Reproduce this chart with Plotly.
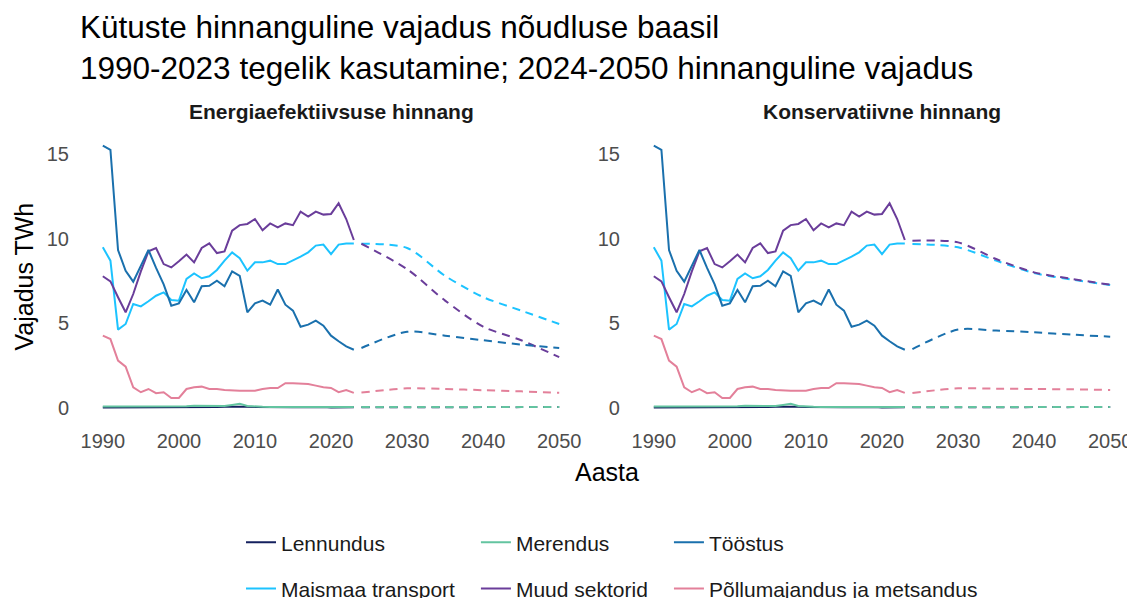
'''Kütuste hinnanguline vajadus nõudluse baasil - kaks stsenaariumi kõrvuti'''

import plotly.graph_objects as go
import plotly.io as pio
from plotly.subplots import make_subplots

import pandas as pd

#---------------------------------------------------------------------------------------

#tegelik kasutamine 1990-2023 (TWh)
actual = pd.DataFrame({
    'Aasta': list(range(1990, 2024)),
    'Lennundus': [0.03, 0.03, 0.02, 0.02, 0.02, 0.02, 0.03, 0.03, 0.03, 0.03,
                  0.04, 0.05, 0.06, 0.06, 0.05, 0.06, 0.07, 0.08, 0.09, 0.07,
                  0.05, 0.04, 0.04, 0.04, 0.04, 0.04, 0.04, 0.05, 0.05, 0.05,
                  0.03, 0.04, 0.04, 0.04],
    'Maismaa transport': [9.49, 8.70, 4.63, 4.96, 6.14, 6.00, 6.30, 6.63, 6.83, 6.38,
                          6.34, 7.62, 7.95, 7.66, 7.78, 8.15, 8.70, 9.19, 8.84, 8.11,
                          8.60, 8.60, 8.70, 8.50, 8.50, 8.70, 8.94, 9.19, 9.59, 9.65,
                          9.09, 9.65, 9.72, 9.72],
    'Merendus': [0.08, 0.08, 0.07, 0.06, 0.06, 0.06, 0.07, 0.07, 0.08, 0.08,
                 0.09, 0.10, 0.13, 0.12, 0.10, 0.10, 0.11, 0.18, 0.25, 0.12,
                 0.08, 0.07, 0.06, 0.06, 0.06, 0.06, 0.06, 0.06, 0.06, 0.06,
                 0.05, 0.06, 0.06, 0.06],
    'Muud sektorid': [7.78, 7.48, 6.54, 5.65, 6.73, 8.07, 9.25, 9.45, 8.50, 8.30,
                      8.66, 9.06, 8.60, 9.45, 9.72, 9.15, 9.25, 10.47, 10.80, 10.87,
                      11.16, 10.50, 10.90, 10.67, 10.90, 10.80, 11.60, 11.30, 11.60, 11.42,
                      11.46, 12.09, 11.16, 9.92],
    'Tööstus': [15.50, 15.25, 9.33, 8.10, 7.46, 8.40, 9.33, 8.27, 7.30, 6.04,
                6.18, 6.97, 6.24, 7.19, 7.22, 7.52, 7.19, 8.07, 7.80, 5.65,
                6.18, 6.34, 6.10, 7.00, 6.10, 5.75, 4.80, 4.92, 5.16, 4.86,
                4.27, 3.94, 3.64, 3.44],
    'Põllumajandus ja metsandus': [4.27, 4.07, 2.80, 2.44, 1.22, 0.93, 1.12, 0.87, 0.93, 0.59,
                                   0.59, 1.12, 1.22, 1.26, 1.12, 1.12, 1.06, 1.02, 1.02, 1.02,
                                   1.02, 1.12, 1.18, 1.18, 1.46, 1.46, 1.42, 1.42, 1.32, 1.22,
                                   1.18, 0.93, 1.06, 0.89],
})

#hinnanguline vajadus 2024-2050 (TWh)
fcast_years = [2024, 2030, 2035, 2040, 2045, 2050]
fcast = {
    'Energiaefektiivsuse hinnang': pd.DataFrame({
        'Aasta': fcast_years,
        'Lennundus': [0.04, 0.04, 0.04, 0.05, 0.05, 0.06],
        'Maismaa transport': [9.70, 9.45, 7.80, 6.55, 5.75, 4.96],
        'Merendus': [0.06, 0.06, 0.06, 0.06, 0.06, 0.06],
        'Muud sektorid': [9.70, 8.20, 6.34, 4.80, 4.00, 3.00],
        'Tööstus': [3.54, 4.50, 4.27, 4.00, 3.74, 3.54],
        'Põllumajandus ja metsandus': [0.91, 1.16, 1.12, 1.05, 0.98, 0.90],
    }),
    'Konservatiivne hinnang': pd.DataFrame({
        'Aasta': fcast_years,
        'Lennundus': [0.04, 0.04, 0.04, 0.05, 0.05, 0.06],
        'Maismaa transport': [9.69, 9.49, 8.70, 7.97, 7.58, 7.26],
        'Merendus': [0.06, 0.06, 0.06, 0.06, 0.06, 0.06],
        'Muud sektorid': [9.88, 9.78, 8.80, 8.01, 7.62, 7.28],
        'Tööstus': [3.48, 4.63, 4.57, 4.47, 4.33, 4.21],
        'Põllumajandus ja metsandus': [0.89, 1.16, 1.14, 1.12, 1.10, 1.06],
    }),
}

#---------------------------------------------------------------------------------------

#setting color palette for charts
pio.templates.default = "plotly_white"
sector_palette = {'Lennundus': '#14205e',
                  'Maismaa transport': '#1cc3ff',
                  'Merendus': '#63c4a0',
                  'Muud sektorid': '#6a3d9a',
                  'Tööstus': '#1a70ad',
                  'Põllumajandus ja metsandus': '#e3809a'}
sector_legend = {'Lennundus': 'legend', 'Maismaa transport': 'legend',
                 'Merendus': 'legend2', 'Muud sektorid': 'legend2',
                 'Tööstus': 'legend3', 'Põllumajandus ja metsandus': 'legend3'}
font_family = "Liberation Sans, Arial, sans-serif"

#---------------------------------------------------------------------------------------

#Demand by sector
def demand_plots():
    scenarios = list(fcast.keys())
    demand = make_subplots(rows=1, cols=2, horizontal_spacing=0.0465,
                           subplot_titles=[f"<b>{s}</b>" for s in scenarios])

    for col, scenario in enumerate(scenarios, start=1):
        demand.add_vrect(x0=2024, x1=2050, fillcolor='#f0f0f0', opacity=1,
                         line_width=0, layer='below', row=1, col=col)
        for sector, color in sector_palette.items():
            demand.add_trace(
                go.Scatter(
                    x=actual.Aasta,
                    y=actual[sector],
                    name=sector,
                    mode='lines',
                    legendgroup=sector,
                    legend=sector_legend[sector],
                    showlegend=(col == 1),
                    line=dict(color=color, width=2),
                ), row=1, col=col)
            demand.add_trace(
                go.Scatter(
                    x=fcast[scenario].Aasta,
                    y=fcast[scenario][sector],
                    name=sector,
                    mode='lines',
                    legendgroup=sector,
                    legend=sector_legend[sector],
                    showlegend=False,
                    line=dict(color=color, width=2, dash='8px,6px', shape='spline', smoothing=0.8),
                ), row=1, col=col)

    demand.update_xaxes(range=[1987, 2053], tickvals=list(range(1990, 2051, 10)),
                        showgrid=False, zeroline=False, ticklabelstandoff=6,
                        tickfont=dict(size=20, color='#4d4d4d'))
    demand.update_yaxes(range=[-0.77, 16.3], tickvals=[0, 5, 10, 15],
                        showgrid=False, zeroline=False, ticklabelstandoff=10,
                        tickfont=dict(size=20, color='#4d4d4d'))
    demand.update_annotations(font=dict(size=21, color='#1a1a1a'), yshift=7)

    demand.add_annotation(text="Aasta", xref='paper', yref='paper', x=0.5, y=-0.1765,
                          xanchor='center', yanchor='middle',
                          showarrow=False, font=dict(size=25, color='black'))
    demand.add_annotation(text="Vajadus TWh", xref='paper', yref='paper', x=-0.0541, y=0.5,
                          xanchor='center', yanchor='middle', textangle=-90,
                          showarrow=False, font=dict(size=25, color='black'))

    legend_style = dict(orientation='v', yanchor='top', y=-0.35, xanchor='left',
                        traceorder='grouped', tracegroupgap=16,
                        font=dict(size=21, color='#1a1a1a'), bgcolor='rgba(0,0,0,0)')
    demand.update_layout(
        width=1127, height=590,
        font=dict(family=font_family),
        margin=dict(l=72, r=2, t=124, b=177, autoexpand=False),
        title={
            'text': "Kütuste hinnanguline vajadus nõudluse baasil<br>"
                    "1990-2023 tegelik kasutamine; 2024-2050 hinnanguline vajadus",
            'font': {'size': 31.5, 'color': 'black'},
            'x': 0,
            'xref': 'paper',
            'xanchor': 'left',
            'y': 0.949,
            'yanchor': 'top'},
        legend=dict(legend_style, x=0.1529),
        legend2=dict(legend_style, x=0.3760),
        legend3=dict(legend_style, x=0.5593),
    )

    return demand

#---------------------------------------------------------------------------------------

fig = demand_plots()
fig.write_html("out.html")
